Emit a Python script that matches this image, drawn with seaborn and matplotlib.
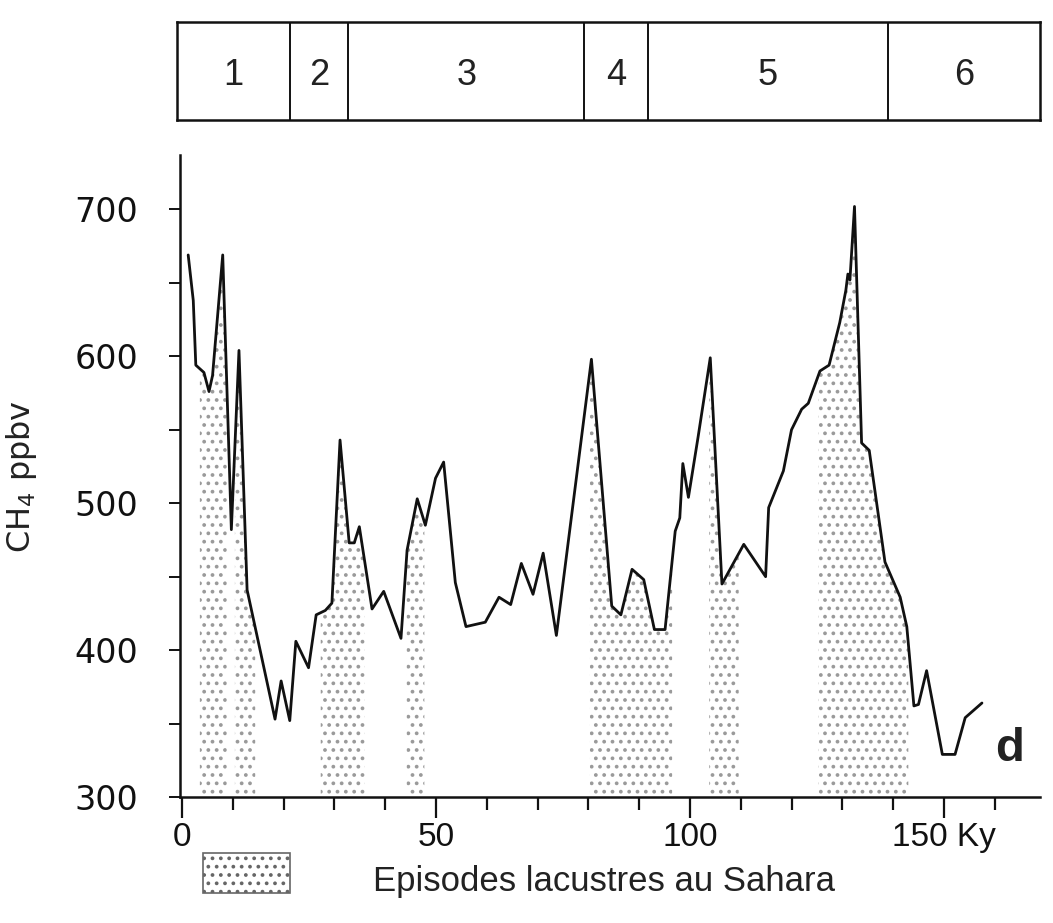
import numpy as np
import pandas as pd
import seaborn as sns
import matplotlib.pyplot as plt
from matplotlib.patches import Rectangle
from matplotlib.ticker import MultipleLocator

# CH4 record (age in ky, CH4 in ppbv)
ages = [1.2, 2.2, 2.7, 4.3, 5.3, 6.0, 8.0, 9.7, 11.2, 12.8, 18.3, 19.5, 21.2,
        22.4, 24.9, 26.4, 28.2, 29.5, 31.1, 32.9, 33.9, 34.9, 37.4, 39.7,
        43.1, 44.3, 46.3, 47.9, 49.9, 51.5, 53.8, 55.9, 59.7, 62.4, 64.7,
        66.8, 69.1, 71.1, 73.7, 80.6, 84.6, 86.4, 88.6, 90.9, 93.0, 95.1,
        97.1, 98.0, 98.6, 99.7, 101.6, 104.0, 106.3, 110.6, 114.9, 115.5,
        118.4, 120.0, 122.0, 123.3, 125.6, 127.4, 129.5, 130.7, 131.1, 131.5,
        132.4, 133.8, 135.3, 138.4, 141.4, 142.7, 144.1, 145.0, 146.6, 149.7,
        152.2, 154.2, 157.5]
ch4 = [669, 638, 594, 589, 576, 587, 669, 482, 604, 441, 353, 379, 352,
       406, 388, 424, 427, 432, 543, 473, 473, 484, 428, 440,
       408, 468, 503, 485, 517, 528, 446, 416, 419, 436, 431,
       459, 438, 466, 410, 598, 430, 424, 455, 448, 414, 414,
       481, 490, 527, 504, 545, 599, 445, 472, 450, 497,
       522, 550, 564, 568, 590, 594, 623, 645, 656, 652,
       702, 541, 536, 460, 436, 416, 362, 363, 386, 329,
       329, 354, 364]

# Sahara lake episodes (start, end in ky)
lake_start = [3.5, 10.4, 27.3, 44.2, 80.3, 103.8, 125.3]
lake_end = [8.8, 14.4, 36.0, 47.7, 96.5, 109.6, 143.0]

# isotope stages on the top bar
stage_edges = [-1, 21.3, 32.7, 79.2, 91.7, 139.0, 169]
stage_names = ["1", "2", "3", "4", "5", "6"]

df = pd.DataFrame({"age": ages, "ch4": ch4})

sns.set_theme(style="white")
plt.rcParams["font.family"] = ["Liberation Sans", "DejaVu Sans"]
plt.rcParams["hatch.linewidth"] = 1.5

fig = plt.figure(figsize=(10.53, 9.23), dpi=100)
ax = fig.add_axes([0.171, 0.1365, 0.817, 0.6955])

# dotted lake episodes under the curve
for a, b in zip(lake_start, lake_end):
    xs = np.linspace(a, b, 60)
    ys = np.interp(xs, df["age"], df["ch4"])
    ax.fill_between(xs, 300, ys, facecolor="white", edgecolor="#9a9a9a",
                    hatch="..", linewidth=0, zorder=1)

sns.lineplot(data=df, x="age", y="ch4", color="#111111", linewidth=2.0,
             ax=ax, zorder=3)

ax.set_xlim(-0.4, 169)
ax.set_ylim(300, 737)
sns.despine(ax=ax)
for s in ["left", "bottom"]:
    ax.spines[s].set_color("#111111")
    ax.spines[s].set_linewidth(1.8)

ax.xaxis.set_minor_locator(MultipleLocator(10))
ax.yaxis.set_minor_locator(MultipleLocator(50))
ax.set_xticks([0, 50, 100, 150])
ax.set_xticklabels(["0", "50", "100", "150 Ky"])
ax.set_yticks([300, 400, 500, 600, 700])
ax.set_yticklabels(["300", "400", "500", "600", "700"],
                   family=["DejaVu Sans"])
ax.tick_params(axis="x", which="major", direction="out", length=15, width=1.6,
               pad=3, labelsize=24, bottom=True, colors="#111111")
ax.tick_params(axis="x", which="minor", direction="out", length=9, width=1.6,
               bottom=True, colors="#111111")
ax.tick_params(axis="y", which="both", direction="out", length=8, width=1.4,
               pad=22, labelsize=24, left=True, colors="#111111")

ax.set_xlabel("")
ax.set_ylabel(r"CH$\mathregular{_4}$ ppbv", fontsize=23, labelpad=26,
              color="#222222", family=["DejaVu Sans"])
ax.text(163, 333, "d", fontsize=34, fontweight="bold", ha="center",
        va="center", color="#222222")

# stage bar on top
top = fig.add_axes([0.168, 0.870, 0.820, 0.106])
top.set_xlim(stage_edges[0], stage_edges[-1])
top.set_ylim(0, 1)
top.set_xticks([])
top.set_yticks([])
for s in top.spines.values():
    s.set_color("#111111")
    s.set_linewidth(1.8)
for e in stage_edges[1:-1]:
    top.axvline(e, color="#111111", linewidth=1.4)
for i, name in enumerate(stage_names):
    mid = (stage_edges[i] + stage_edges[i + 1]) / 2
    top.text(mid, 0.45, name, fontsize=26, ha="center", va="center",
             color="#222222")

# legend box
fig.patches.append(Rectangle((203 / 1053, 1 - 893 / 923), 87 / 1053,
                             40 / 923, transform=fig.transFigure,
                             facecolor="white", edgecolor="#666666",
                             hatch="..", linewidth=1.2))
fig.text(373 / 1053, 1 - 882 / 923, "Episodes lacustres au Sahara",
         fontsize=25, ha="left", va="center", color="#222222")

fig.savefig("out.png", dpi=100)
